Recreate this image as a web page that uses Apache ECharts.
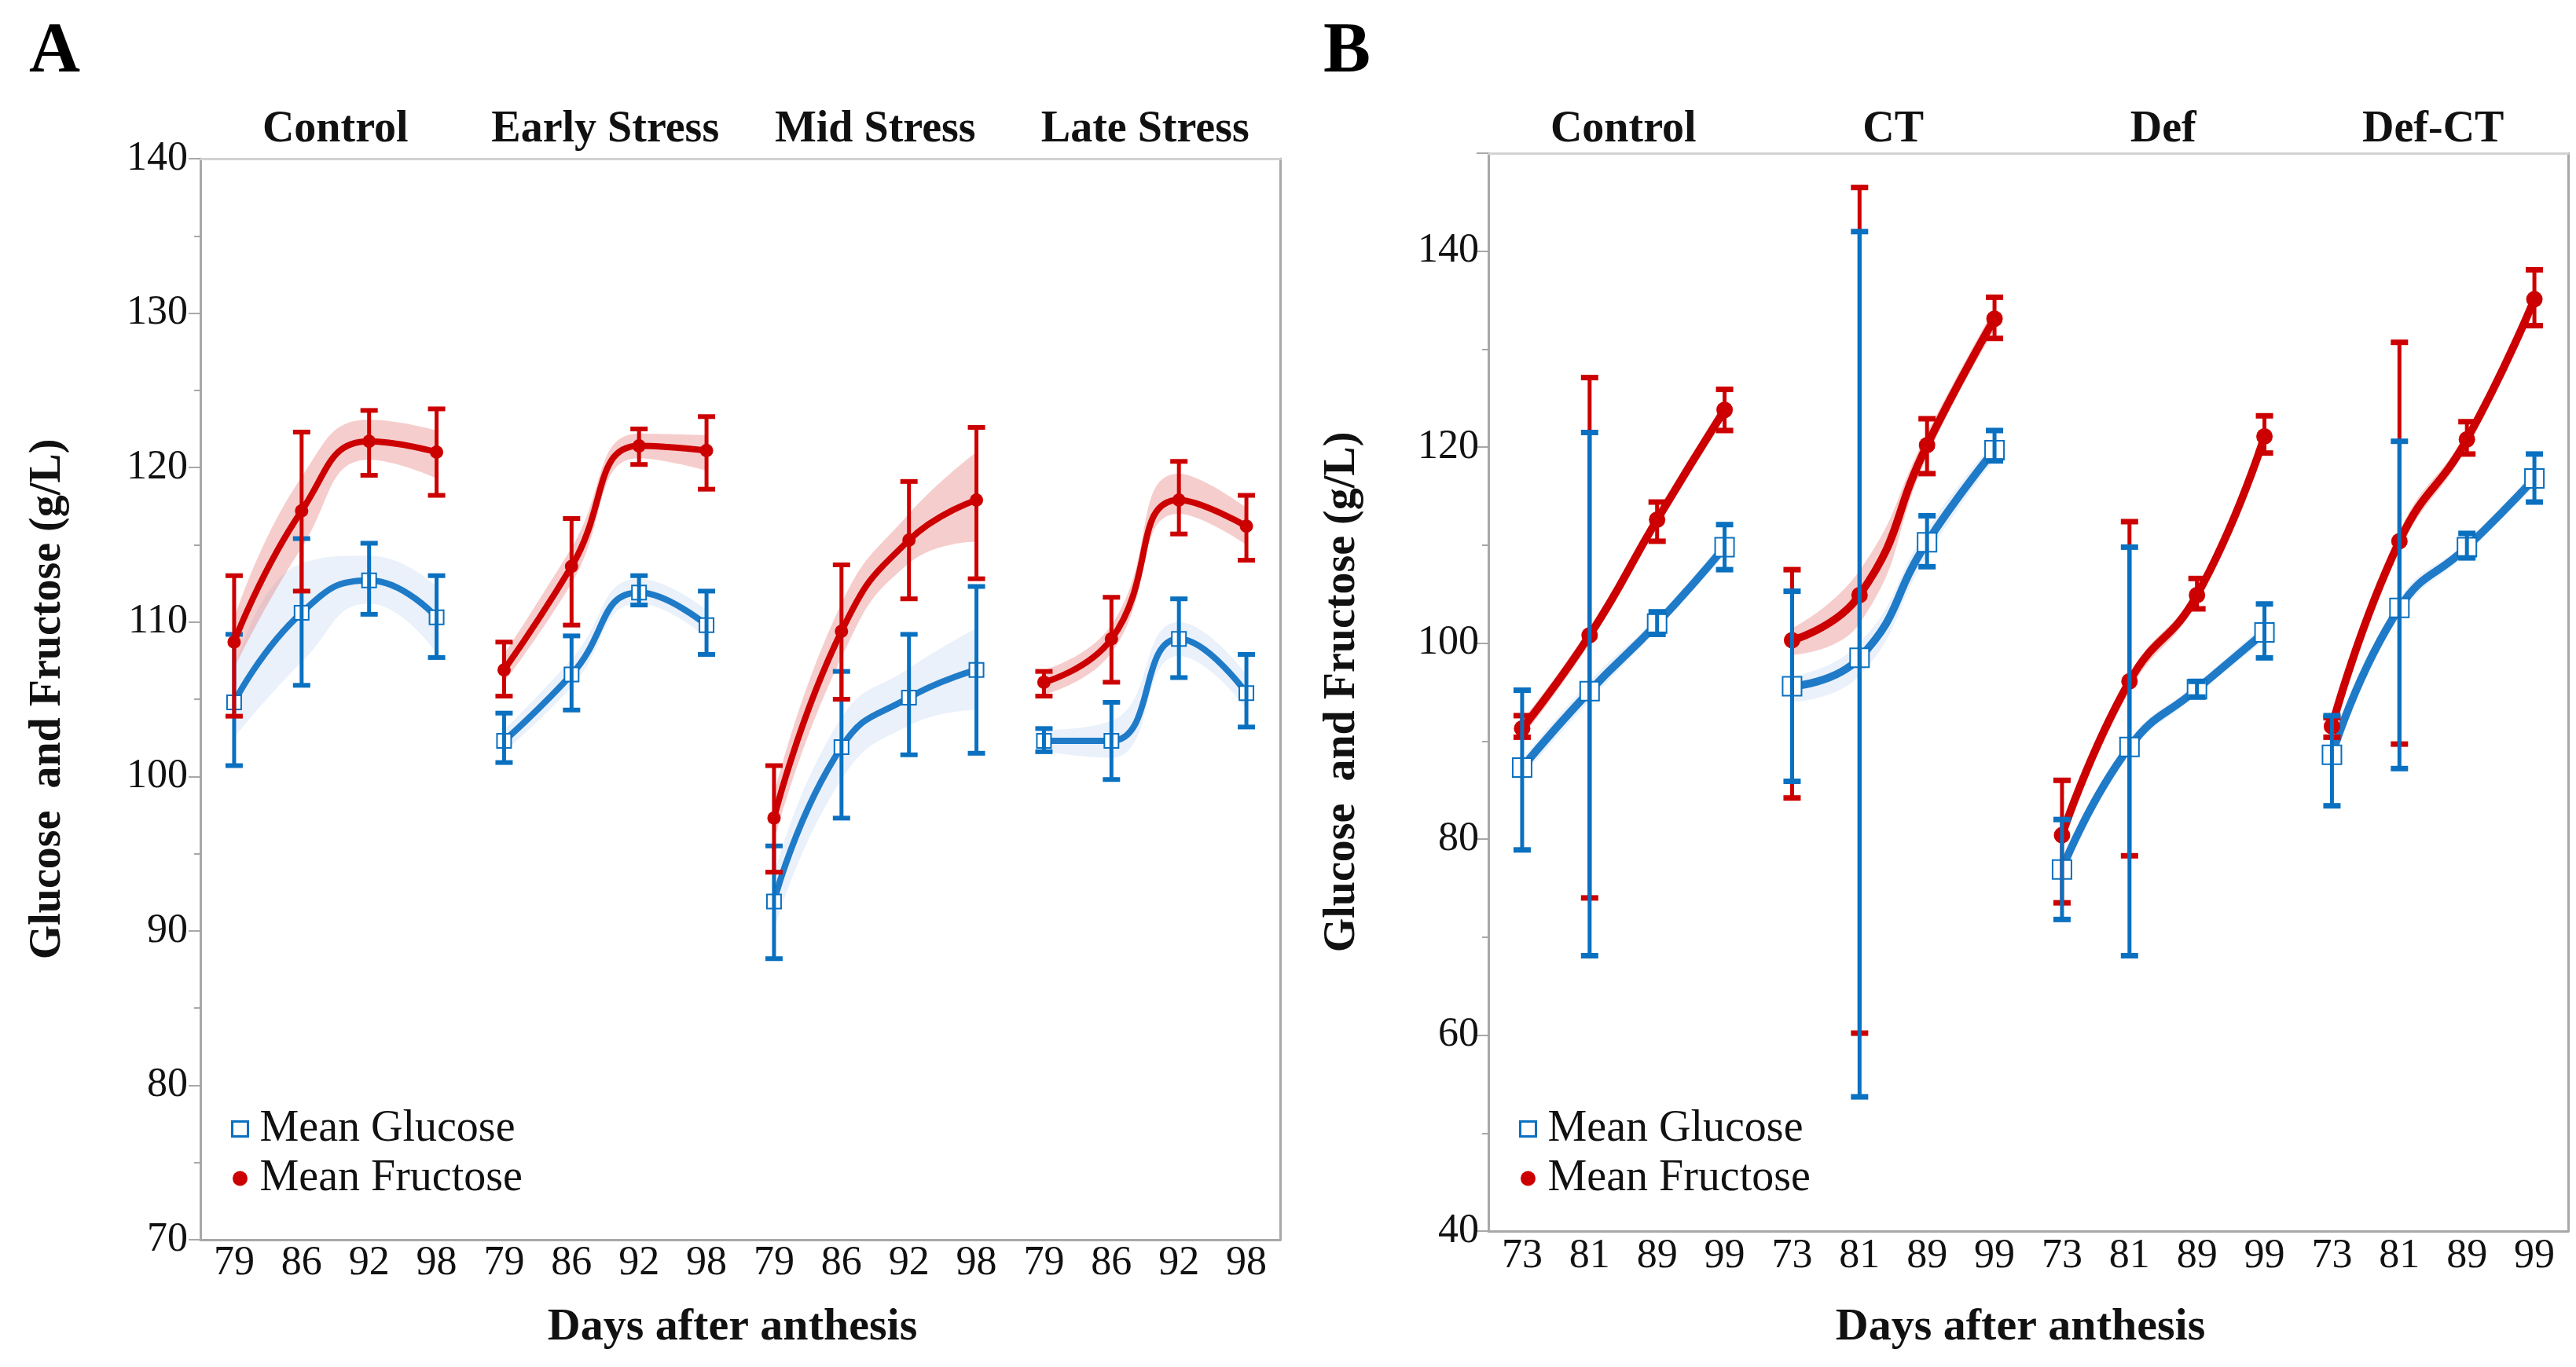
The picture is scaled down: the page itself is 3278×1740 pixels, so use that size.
<!DOCTYPE html>
<html>
<head>
<meta charset="utf-8">
<script src="https://cdn.jsdelivr.net/npm/echarts@6/dist/echarts.min.js"></script>
<style>
html,body{margin:0;padding:0;background:#fff;}
#chart{width:3278px;height:1740px;}
</style>
</head>
<body>
<div id="chart"></div>
<script>
// ---------- data ----------
const daysA = ['79', '86', '92', '98'];
const daysB = ['73', '81', '89', '99'];
const facetsA = ['Control', 'Early Stress', 'Mid Stress', 'Late Stress'];
const facetsB = ['Control', 'CT', 'Def', 'Def-CT'];

// Panel A (g/L) – one row per facet
const gluMeanA = [[104.8, 110.6, 112.7, 110.3], [102.3, 106.6, 111.9, 109.8], [91.9, 101.9, 105.1, 106.9], [102.3, 102.3, 108.9, 105.4]];
const gluLowA  = [[100.7, 105.9, 110.5, 107.7], [100.9, 104.3, 111.1, 107.9], [88.2, 97.3, 101.4, 101.5], [101.6, 99.8, 106.4, 103.2]];
const gluHighA = [[109.2, 115.4, 115.1, 113.0], [104.1, 109.1, 113.0, 112.0], [95.5, 106.8, 109.2, 112.3], [103.1, 104.8, 111.5, 107.9]];
const fruMeanA = [[108.7, 117.2, 121.7, 121.0], [106.9, 113.6, 121.4, 121.1], [97.3, 109.4, 115.3, 117.9], [106.1, 108.9, 117.9, 116.2]];
const fruLowA  = [[103.9, 112.0, 119.5, 118.2], [105.2, 109.8, 120.2, 118.6], [93.8, 105.0, 111.5, 112.8], [105.2, 106.1, 115.7, 114.0]];
const fruHighA = [[113.0, 122.3, 123.7, 123.8], [108.7, 116.7, 122.5, 123.3], [100.7, 113.7, 119.1, 122.6], [106.8, 111.6, 120.4, 118.2]];
const gluBandLoA = [[102.5, 107.4, 111.2, 108.0], [101.6, 105.8, 111.2, 109.0], [90.0, 99.8, 103.3, 104.3], [101.6, 101.2, 107.8, 104.4]];
const gluBandHiA = [[106.8, 113.8, 114.3, 112.3], [103.0, 107.6, 112.8, 110.8], [93.6, 103.8, 107.0, 109.6], [103.0, 103.6, 110.0, 106.6]];
const fruBandLoA = [[107.0, 114.8, 120.5, 119.3], [106.1, 112.5, 120.6, 119.8], [95.8, 107.7, 113.8, 115.2], [105.3, 108.0, 117.0, 115.0]];
const fruBandHiA = [[110.2, 119.4, 123.1, 122.4], [107.9, 114.8, 122.2, 122.1], [98.8, 111.2, 117.0, 121.0], [106.9, 109.8, 119.6, 117.4]];

// Panel B (g/L) – one row per facet
const gluMeanB = [[87.3, 95.1, 102.0, 109.8], [95.6, 98.5, 110.3, 119.7], [76.9, 89.4, 95.3, 101.1], [88.6, 103.6, 109.8, 116.8]];
const gluLowB  = [[78.9, 68.1, 100.9, 107.5], [85.9, 53.7, 107.8, 118.6], [71.8, 68.1, 94.5, 98.5], [83.4, 87.2, 108.7, 114.4]];
const gluHighB = [[95.2, 121.5, 103.2, 112.1], [105.3, 142.0, 113.0, 121.7], [82.0, 109.8, 96.1, 104.0], [92.6, 120.6, 111.2, 119.3]];
const fruMeanB = [[91.3, 100.8, 112.6, 123.8], [100.3, 104.9, 120.2, 133.1], [80.4, 96.1, 104.9, 121.1], [91.5, 110.4, 120.8, 135.1]];
const fruLowB  = [[90.4, 74.0, 110.4, 121.7], [84.2, 60.2, 117.3, 131.1], [73.5, 78.3, 103.5, 119.4], [90.4, 89.7, 119.3, 132.4]];
const fruHighB = [[92.6, 127.1, 114.4, 125.9], [107.5, 146.5, 122.9, 135.3], [86.0, 112.4, 106.6, 123.2], [92.4, 130.7, 122.6, 138.1]];
const gluBandLoB = [[86.4, 94.1, 101.4, 109.0], [94.0, 96.7, 108.9, 118.8], [76.2, 88.6, 94.7, 100.3], [87.9, 102.7, 109.2, 116.0]];
const gluBandHiB = [[88.1, 96.1, 102.7, 110.6], [96.6, 100.0, 111.6, 120.6], [77.6, 90.1, 95.9, 101.9], [89.3, 104.5, 110.4, 117.6]];
const fruBandLoB = [[90.4, 100.0, 111.8, 123.0], [98.8, 102.0, 119.0, 132.0], [79.6, 95.1, 104.2, 120.4], [90.7, 109.4, 120.0, 134.2]];
const fruBandHiB = [[92.1, 101.6, 113.4, 124.6], [101.5, 107.4, 121.4, 134.2], [81.2, 96.8, 105.6, 121.8], [92.3, 111.4, 121.6, 136.0]];

// ---------- styling ----------
const FONT = 'Liberation Serif';
const BLUE_LINE = '#1f7bc8';
const BLUE_BAR = '#0a70c0';
const RED = '#cc0000';
const BLUE_BAND = 'rgba(160,190,235,0.22)';
const RED_BAND = 'rgba(225,90,90,0.30)';
const AXIS_GRAY = '#a8a8a8';

const panels = [
  {key: 'A', left: 255, top: 202, height: 1376, min: 70, max: 140, interval: 10, days: daysA, facets: facetsA,
   gm: gluMeanA, gl: gluLowA, gh: gluHighA, fm: fruMeanA, fl: fruLowA, fh: fruHighA,
   gbl: gluBandLoA, gbh: gluBandHiA, fbl: fruBandLoA, fbh: fruBandHiA, nameGap: 165, labelMargin: 16, xMargin: 4,
   lineW: 8, sq: 18, sqB: 3, dot: 17, barW: 5, capW: 6, blueOnTop: false},
  {key: 'B', left: 1894, top: 195, height: 1372, min: 40, max: 150, interval: 20, days: daysB, facets: facetsB,
   gm: gluMeanB, gl: gluLowB, gh: gluHighB, fm: fruMeanB, fl: fruLowB, fh: fruHighB,
   gbl: gluBandLoB, gbh: gluBandHiB, fbl: fruBandLoB, fbh: fruBandHiB, nameGap: 157, labelMargin: 12, xMargin: 6,
   lineW: 10, sq: 24, sqB: 6, dot: 21, barW: 5, capW: 7, blueOnTop: true}
];
const FACET_W = 343.5;

function errRender(color, barW, capW) {
  return function (params, api) {
    const xi = api.value(0);
    const p1 = api.coord([xi, api.value(1)]);
    const p2 = api.coord([xi, api.value(2)]);
    const cw = 11;
    return {
      type: 'group',
      children: [
        {type: 'line', shape: {x1: p1[0], y1: p1[1], x2: p2[0], y2: p2[1]}, style: {stroke: color, lineWidth: barW}},
        {type: 'line', shape: {x1: p1[0] - cw, y1: p1[1], x2: p1[0] + cw, y2: p1[1]}, style: {stroke: color, lineWidth: capW}},
        {type: 'line', shape: {x1: p2[0] - cw, y1: p2[1], x2: p2[0] + cw, y2: p2[1]}, style: {stroke: color, lineWidth: capW}}
      ]
    };
  };
}

const grid = [], xAxis = [], yAxis = [], series = [], graphic = [], legend = [];

panels.forEach(function (P, pi) {
  for (let f = 0; f < 4; f++) {
    const g = pi * 4 + f;
    grid.push({left: P.left + f * FACET_W, top: P.top, width: FACET_W, height: P.height});
    xAxis.push({
      gridIndex: g, type: 'category', data: P.days, boundaryGap: true,
      axisLine: {lineStyle: {color: AXIS_GRAY, width: 3}},
      axisTick: {show: false},
      axisLabel: {interval: 0, fontSize: 52, fontFamily: FONT, color: '#111', margin: P.xMargin},
      splitLine: {show: false}
    });
    const first = f === 0;
    yAxis.push({
      gridIndex: g, type: 'value', min: P.min, max: P.max, interval: P.interval,
      show: first,
      name: first ? 'Glucose  and Fructose (g/L)' : '',
      nameLocation: 'middle', nameGap: P.nameGap, nameRotate: 90,
      nameTextStyle: {fontSize: 56, fontWeight: 'bold', fontFamily: FONT, color: '#111'},
      axisLine: {show: true, lineStyle: {color: AXIS_GRAY, width: 3}},
      axisTick: {show: true, length: 15, lineStyle: {color: AXIS_GRAY, width: 2}},
      minorTick: {show: true, splitNumber: 2, length: 8, lineStyle: {color: AXIS_GRAY, width: 2}},
      axisLabel: {fontSize: 52, fontFamily: FONT, color: '#111', margin: P.labelMargin, showMaxLabel: P.key === 'A'},
      splitLine: {show: false}
    });

    const gbl = P.gbl[f], gbh = P.gbh[f], fbl = P.fbl[f], fbh = P.fbh[f];
    // confidence bands
    series.push({type: 'line', xAxisIndex: g, yAxisIndex: g, data: gbl, stack: 'gb' + g, smooth: 0.5,
      symbol: 'none', lineStyle: {width: 0, opacity: 0}, silent: true, z: 1});
    series.push({type: 'line', xAxisIndex: g, yAxisIndex: g, data: gbh.map(function (v, i) { return +(v - gbl[i]).toFixed(2); }),
      stack: 'gb' + g, smooth: 0.5, symbol: 'none', lineStyle: {width: 0, opacity: 0},
      areaStyle: {color: BLUE_BAND, opacity: 1}, silent: true, z: 1});
    series.push({type: 'line', xAxisIndex: g, yAxisIndex: g, data: fbl, stack: 'fb' + g, smooth: 0.5,
      symbol: 'none', lineStyle: {width: 0, opacity: 0}, silent: true, z: 1});
    series.push({type: 'line', xAxisIndex: g, yAxisIndex: g, data: fbh.map(function (v, i) { return +(v - fbl[i]).toFixed(2); }),
      stack: 'fb' + g, smooth: 0.5, symbol: 'none', lineStyle: {width: 0, opacity: 0},
      areaStyle: {color: RED_BAND, opacity: 1}, silent: true, z: 1});

    // mean curves
    series.push({type: 'line', name: 'Mean Glucose', xAxisIndex: g, yAxisIndex: g, data: P.gm[f], smooth: 0.5,
      symbol: 'emptyRect', symbolSize: P.sq, showAllSymbol: true,
      lineStyle: {color: BLUE_LINE, width: P.lineW}, itemStyle: {color: BLUE_BAR, borderColor: BLUE_BAR, borderWidth: P.sqB}, z: 3});
    series.push({type: 'custom', xAxisIndex: g, yAxisIndex: g, renderItem: errRender(BLUE_BAR, P.barW, P.capW),
      data: P.days.map(function (d, i) { return [i, P.gl[f][i], P.gh[f][i]]; }),
      encode: {x: 0, y: [1, 2]}, z: P.blueOnTop ? 7 : 4, silent: true});
    series.push({type: 'line', name: 'Mean Fructose', xAxisIndex: g, yAxisIndex: g, data: P.fm[f], smooth: 0.5,
      symbol: 'circle', symbolSize: P.dot, showAllSymbol: true,
      lineStyle: {color: RED, width: P.lineW}, itemStyle: {color: RED}, z: 5});
    series.push({type: 'custom', xAxisIndex: g, yAxisIndex: g, renderItem: errRender(RED, P.barW, P.capW),
      data: P.days.map(function (d, i) { return [i, P.fl[f][i], P.fh[f][i]]; }),
      encode: {x: 0, y: [1, 2]}, z: 6, silent: true});

    graphic.push({type: 'text', x: P.left + f * FACET_W + FACET_W / 2, y: 166, silent: true,
      style: {text: P.facets[f], textAlign: 'center', textVerticalAlign: 'middle',
        fontSize: 56, fontWeight: 'bold', fontFamily: FONT, fill: '#111'}});
  }
});

// frame grids (top and right border of each panel)
panels.forEach(function (P, pi) {
  const gi = 8 + pi;
  grid.push({left: P.left, top: P.top, width: FACET_W * 4, height: P.height});
  xAxis.push({gridIndex: gi, type: 'value', position: 'top', min: 0, max: 1,
    axisLine: {show: true, onZero: false, lineStyle: {color: '#d2d2d2', width: 3}},
    axisTick: {show: false}, axisLabel: {show: false}, splitLine: {show: false}});
  yAxis.push({gridIndex: gi, type: 'value', position: 'right', min: 0, max: 1,
    axisLine: {show: true, onZero: false, lineStyle: {color: AXIS_GRAY, width: 3}},
    axisTick: {show: false}, axisLabel: {show: false}, splitLine: {show: false}});

  legend.push({
    orient: 'vertical', left: P.left + 34, top: 1404, itemWidth: 20, itemHeight: 19, itemGap: 7,
    selectedMode: false,
    textStyle: {fontSize: 56, fontFamily: FONT, color: '#111', padding: [0, 0, 0, 10]},
    data: [
      {name: 'Mean Glucose', icon: 'rect', itemStyle: {color: '#fff', borderColor: BLUE_BAR, borderWidth: 3}},
      {name: 'Mean Fructose', icon: 'circle', itemStyle: {color: RED, borderWidth: 0}}
    ]
  });

  graphic.push({type: 'text', x: P.left + FACET_W * 2 - 10, y: 1690, silent: true,
    style: {text: 'Days after anthesis', textAlign: 'center', textVerticalAlign: 'middle',
      fontSize: 58, fontWeight: 'bold', fontFamily: FONT, fill: '#111'}});
});

graphic.push({type: 'text', x: 37, y: 68, silent: true,
  style: {text: 'A', textAlign: 'left', textVerticalAlign: 'middle', fontSize: 90, fontWeight: 'bold', fontFamily: FONT, fill: '#000'}});
graphic.push({type: 'text', x: 1684, y: 68, silent: true,
  style: {text: 'B', textAlign: 'left', textVerticalAlign: 'middle', fontSize: 90, fontWeight: 'bold', fontFamily: FONT, fill: '#000'}});

const chart = echarts.init(document.getElementById('chart'), null, {renderer: 'canvas'});
chart.setOption({
  backgroundColor: '#fff',
  animation: false,
  grid: grid,
  xAxis: xAxis,
  yAxis: yAxis,
  legend: legend,
  series: series,
  graphic: graphic
});
</script>
</body>
</html>
